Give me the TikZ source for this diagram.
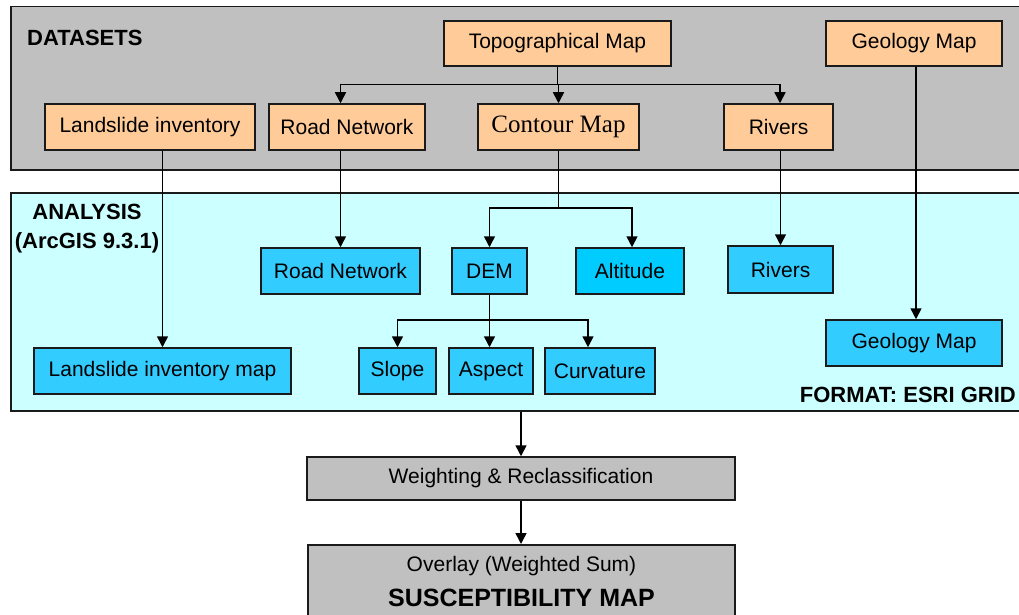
\documentclass[tikz,border=0pt]{standalone}
\usepackage{fontspec}
\setmainfont{Liberation Sans}
\newfontfamily\serifx{Liberation Serif}
\usetikzlibrary{arrows.meta,calc}
\definecolor{panelgray}{HTML}{C0C0C0}
\definecolor{orangebox}{HTML}{FFCC99}
\definecolor{cyanpanel}{HTML}{CCFFFF}
\definecolor{bluebox}{HTML}{33CCFF}
\definecolor{altbox}{HTML}{00CCFF}
\definecolor{edge}{HTML}{1A1A1A}
\begin{document}
\begin{tikzpicture}[x=1pt,y=-1pt,
  panel/.style={draw=edge, line width=1.5pt, inner sep=0pt, rectangle},
  box/.style={draw=edge, line width=1.5pt, inner sep=0pt, rectangle, font=\fontsize{21}{25}\selectfont},
  obox/.style={box, fill=orangebox},
  bbox/.style={box, fill=bluebox},
  gbox/.style={box, fill=panelgray},
  conn/.style={draw=black, line width=1.5pt},
  arr/.style={conn, -{Triangle[width=11pt,length=11pt]}},
  title/.style={font=\fontsize{22}{29}\bfseries\selectfont, inner sep=0pt}
]
\useasboundingbox (0,0) rectangle (1019,615);
\fill[white] (0,0) rectangle (1019,615);

% panels
\node[panel, fill=panelgray, minimum width=1015pt, minimum height=163pt, anchor=north west] (datasets) at (10,6) {};
\node[panel, fill=cyanpanel, minimum width=1015pt, minimum height=218pt, anchor=north west] (analysis) at (10,192) {};

\node[title, anchor=west] (dtitle) at (27,38) {DATASETS};
\node[title, align=center] (atitle) at (87,228.5) {ANALYSIS\\(ArcGIS 9.3.1)};
\node[title, anchor=east] (fmt) at (1016,395) {FORMAT: ESRI GRID};

% dataset boxes
\node[obox, minimum width=227pt, minimum height=45pt] (topo) at (557.5,43.5) {Topographical Map};
\node[obox, minimum width=176pt, minimum height=45pt] (geo1) at (914,43.5) {Geology Map};
\node[obox, minimum width=210pt, minimum height=46pt] (land) at (150,127) {Landslide inventory};
\node[obox, minimum width=156pt, minimum height=46pt] (road1) at (347,127) {Road Network};
\node[obox, minimum width=161pt, minimum height=46pt, font=\serifx\fontsize{25}{28}\selectfont] (contour) at (558.5,127) {Contour Map};
\node[obox, minimum width=109pt, minimum height=46pt] (riv1) at (778.5,127) {Rivers};

% analysis boxes
\node[bbox, minimum width=159pt, minimum height=46pt] (road2) at (340.5,271) {Road Network};
\node[bbox, minimum width=75pt, minimum height=46pt] (dem) at (489.5,271) {DEM};
\node[box, fill=altbox, minimum width=108pt, minimum height=46pt] (alt) at (630,271) {Altitude};
\node[bbox, minimum width=105pt, minimum height=47pt] (riv2) at (780.5,269.5) {Rivers};
\node[bbox, minimum width=176pt, minimum height=46pt] (geo2) at (914,343) {Geology Map};
\node[bbox, minimum width=257pt, minimum height=46pt] (lmap) at (162.5,371) {Landslide inventory map};
\node[bbox, minimum width=77pt, minimum height=46pt] (slope) at (397.5,371) {Slope};
\node[bbox, minimum width=84pt, minimum height=46pt] (aspect) at (491,371) {Aspect};
\node[bbox, minimum width=110pt, minimum height=46pt] (curv) at (600,371) {Curvature};

% bottom boxes
\node[gbox, minimum width=428pt, minimum height=43pt] (weight) at (521,478.5) {Weighting \& Reclassification};
\node[gbox, minimum width=427pt, minimum height=90pt, anchor=north] (overlay) at (521.5,544) {};
\node[font=\fontsize{21}{25}\selectfont, inner sep=0pt] (ovtext) at (521.5,566) {Overlay (Weighted Sum)};
\node[font=\fontsize{25}{29}\bfseries\selectfont, inner sep=0pt] (susc) at (521.5,598) {SUSCEPTIBILITY MAP};

% topo connectors
\coordinate (tbus) at ($(topo.south)+(0,18)$);
\draw[conn] (topo.south) -- (tbus);
\draw[arr] (tbus) -| (road2.north |- road1.north);
\draw[arr] (tbus) -- (tbus -| contour.north) -- (contour.north);
\draw[arr] (tbus) -| ([xshift=1.5pt]riv1.north);

% vertical connectors dataset -> analysis
\draw[arr] (lmap.north |- land.south) -- (lmap.north);
\draw[arr] (road2.north |- road1.south) -- (road2.north);
\draw[arr] (riv2.north |- riv1.south) -- (riv2.north);
\draw[arr] ([xshift=2pt]geo1.south) -- ([xshift=2pt]geo2.north);

% contour connectors
\coordinate (cbus) at (558.5,208);
\draw[conn] (contour.south) -- (cbus);
\draw[arr] (cbus) -| (dem.north);
\draw[arr] (cbus) -| ([xshift=2pt]alt.north);

% DEM connectors
\coordinate (dbus) at (489.5,320);
\draw[conn] (dem.south) -- (dbus);
\draw[arr] (dbus) -| (slope.north);
\draw[arr] (dbus) -- (aspect.north -| dbus);
\draw[arr] (dbus) -| ([xshift=-12pt]curv.north);

% bottom flow
\draw[arr] (analysis.south -| weight.north) -- (weight.north);
\draw[arr] (weight.south) -- (weight.south |- overlay.north);
\end{tikzpicture}
\end{document}
